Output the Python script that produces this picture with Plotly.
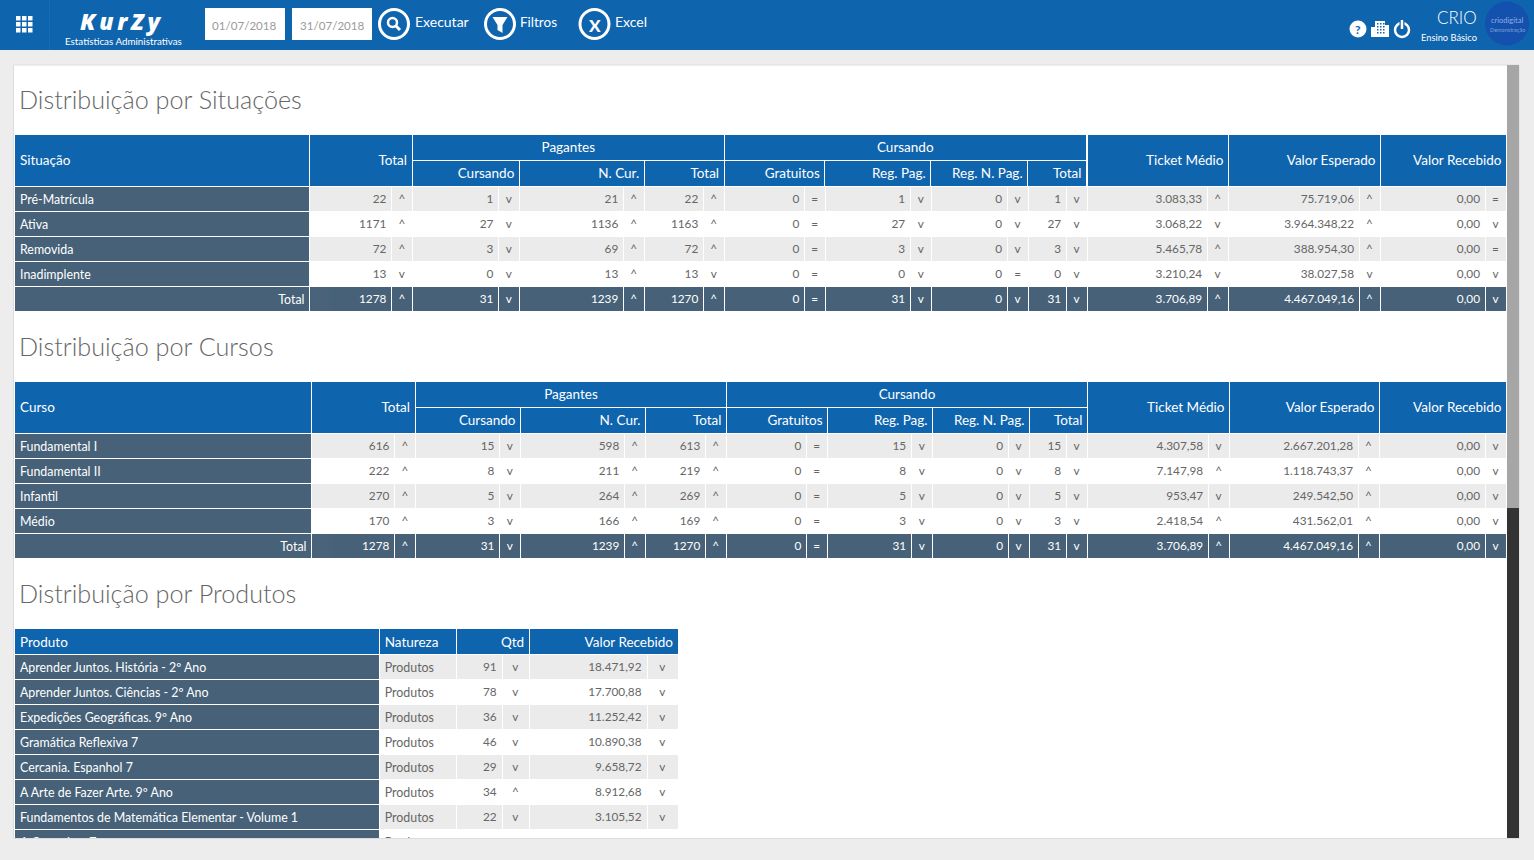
import plotly.graph_objects as go

W, H = 1534, 860

BLUE = '#0F64AE'
SLATE = '#466178'
GREY_ROW = '#EBEBEB'
PAGE = '#EDEDED'
TEXT = '#666666'
CLEAR = 'rgba(0,0,0,0)'
FONT = 'Lato'

# Distribuicao por Situacoes
situacoes = ['Pré-Matrícula', 'Ativa', 'Removida', 'Inadimplente', 'Total']
sit_total = ['22', '1171', '72', '13', '1278']
sit_total_seta = ['^', '^', '^', 'v', '^']
sit_pag_cursando = ['1', '27', '3', '0', '31']
sit_pag_cursando_seta = ['v', 'v', 'v', 'v', 'v']
sit_pag_ncur = ['21', '1136', '69', '13', '1239']
sit_pag_ncur_seta = ['^', '^', '^', '^', '^']
sit_pag_total = ['22', '1163', '72', '13', '1270']
sit_pag_total_seta = ['^', '^', '^', 'v', '^']
sit_gratuitos = ['0', '0', '0', '0', '0']
sit_gratuitos_seta = ['=', '=', '=', '=', '=']
sit_reg_pag = ['1', '27', '3', '0', '31']
sit_reg_pag_seta = ['v', 'v', 'v', 'v', 'v']
sit_reg_npag = ['0', '0', '0', '0', '0']
sit_reg_npag_seta = ['v', 'v', 'v', '=', 'v']
sit_cur_total = ['1', '27', '3', '0', '31']
sit_cur_total_seta = ['v', 'v', 'v', 'v', 'v']
sit_ticket = ['3.083,33', '3.068,22', '5.465,78', '3.210,24', '3.706,89']
sit_ticket_seta = ['^', 'v', '^', 'v', '^']
sit_esperado = ['75.719,06', '3.964.348,22', '388.954,30', '38.027,58', '4.467.049,16']
sit_esperado_seta = ['^', '^', '^', 'v', '^']
sit_recebido = ['0,00', '0,00', '0,00', '0,00', '0,00']
sit_recebido_seta = ['=', 'v', '=', 'v', 'v']

# Distribuicao por Cursos
cursos = ['Fundamental I', 'Fundamental II', 'Infantil', 'Médio', 'Total']
cur_total = ['616', '222', '270', '170', '1278']
cur_total_seta = ['^', '^', '^', '^', '^']
cur_pag_cursando = ['15', '8', '5', '3', '31']
cur_pag_cursando_seta = ['v', 'v', 'v', 'v', 'v']
cur_pag_ncur = ['598', '211', '264', '166', '1239']
cur_pag_ncur_seta = ['^', '^', '^', '^', '^']
cur_pag_total = ['613', '219', '269', '169', '1270']
cur_pag_total_seta = ['^', '^', '^', '^', '^']
cur_gratuitos = ['0', '0', '0', '0', '0']
cur_gratuitos_seta = ['=', '=', '=', '=', '=']
cur_reg_pag = ['15', '8', '5', '3', '31']
cur_reg_pag_seta = ['v', 'v', 'v', 'v', 'v']
cur_reg_npag = ['0', '0', '0', '0', '0']
cur_reg_npag_seta = ['v', 'v', 'v', 'v', 'v']
cur_cur_total = ['15', '8', '5', '3', '31']
cur_cur_total_seta = ['v', 'v', 'v', 'v', 'v']
cur_ticket = ['4.307,58', '7.147,98', '953,47', '2.418,54', '3.706,89']
cur_ticket_seta = ['v', '^', 'v', '^', '^']
cur_esperado = ['2.667.201,28', '1.118.743,37', '249.542,50', '431.562,01', '4.467.049,16']
cur_esperado_seta = ['^', '^', '^', '^', '^']
cur_recebido = ['0,00', '0,00', '0,00', '0,00', '0,00']
cur_recebido_seta = ['v', 'v', 'v', 'v', 'v']

# Distribuicao por Produtos
produtos = ['Aprender Juntos. História - 2º Ano', 'Aprender Juntos. Ciências - 2º Ano',
            'Expedições Geográficas. 9º Ano', 'Gramática Reflexiva 7', 'Cercania. Espanhol 7',
            'A Arte de Fazer Arte. 9º Ano', 'Fundamentos de Matemática Elementar - Volume 1',
            'A Conquista 7']
prod_natureza = ['Produtos'] * 8
prod_qtd = ['91', '78', '36', '46', '29', '34', '22', '']
prod_qtd_seta = ['v', 'v', 'v', 'v', 'v', '^', 'v', '']
prod_valor = ['18.471,92', '17.700,88', '11.252,42', '10.890,38', '9.658,72', '8.912,68', '3.105,52', '']
prod_valor_seta = ['v', 'v', 'v', 'v', 'v', 'v', 'v', '']

sit_cols = [situacoes, sit_total, sit_total_seta, sit_pag_cursando, sit_pag_cursando_seta,
            sit_pag_ncur, sit_pag_ncur_seta, sit_pag_total, sit_pag_total_seta,
            sit_gratuitos, sit_gratuitos_seta, sit_reg_pag, sit_reg_pag_seta,
            sit_reg_npag, sit_reg_npag_seta, sit_cur_total, sit_cur_total_seta,
            sit_ticket, sit_ticket_seta, sit_esperado, sit_esperado_seta,
            sit_recebido, sit_recebido_seta]
cur_cols = [cursos, cur_total, cur_total_seta, cur_pag_cursando, cur_pag_cursando_seta,
            cur_pag_ncur, cur_pag_ncur_seta, cur_pag_total, cur_pag_total_seta,
            cur_gratuitos, cur_gratuitos_seta, cur_reg_pag, cur_reg_pag_seta,
            cur_reg_npag, cur_reg_npag_seta, cur_cur_total, cur_cur_total_seta,
            cur_ticket, cur_ticket_seta, cur_esperado, cur_esperado_seta,
            cur_recebido, cur_recebido_seta]
prod_cols = [produtos, prod_natureza, prod_qtd, prod_qtd_seta, prod_valor, prod_valor_seta]

# column edges in page pixels
sit_edges = [14.5, 309.5, 391.5, 412.5, 498.5, 519.5, 623.5, 644.5, 703.5, 724.5, 804.5, 825.5,
             910.5, 931.5, 1007.5, 1028.5, 1066.5, 1087.5, 1207.5, 1228.5, 1359.5, 1380.5, 1485.5, 1506.5]
cur_edges = [14.5, 311.5, 394.5, 415.5, 499.5, 520.5, 624.5, 645.5, 705.5, 726.5, 806.5, 827.5,
             911.5, 932.5, 1008.5, 1029.5, 1066.5, 1087.5, 1208.5, 1229.5, 1358.5, 1379.5, 1485.5, 1506.5]
prod_edges = [14.5, 379.5, 456, 502, 529.5, 647, 678.5]

fig = go.Figure()


def px(x):
    return x / W


def py(y):
    return 1 - y / H


def text_edges(edges, aligns):
    # plotly pads table text 8px, the original only 5px: nudge the text columns
    out = list(edges)
    for i, a in enumerate(aligns):
        if a == 'left':
            out[i] = edges[i] - 2.5
            if i + 1 < len(aligns) and aligns[i + 1] == 'right':
                out[i + 1] = edges[i + 1] + 3
        elif a == 'right':
            out[i + 1] = edges[i + 1] + 3
        elif i and aligns[i - 1] == 'right':
            out[i + 1] = edges[i + 1] - 3
    return out


def add_table(edges, top, row_h, columns, fills, colors, aligns, size=12, dy=0):
    n = len(columns[0])
    widths = [b - a for a, b in zip(edges, edges[1:])]
    bottom = top + n * row_h + 2
    fig.add_trace(go.Table(
        domain=dict(x=[px(edges[0]), px(edges[-1])], y=[py(bottom), py(top)]),
        columnwidth=widths,
        header=dict(values=[''] * len(columns), height=0, fill_color=CLEAR, line_width=0),
        cells=dict(values=[[''] * n] * len(columns), height=row_h, fill_color=fills,
                   line_color='white', line_width=1),
    ))
    t_edges = text_edges(edges, aligns)
    widths = [b - a for a, b in zip(t_edges, t_edges[1:])]
    fig.add_trace(go.Table(
        domain=dict(x=[px(t_edges[0]), px(t_edges[-1])], y=[py(bottom + dy), py(top + dy)]),
        columnwidth=widths,
        header=dict(values=[''] * len(columns), height=0, fill_color=CLEAR, line_width=0),
        cells=dict(values=columns, height=row_h, fill_color=CLEAR, line_color=CLEAR, line_width=0,
                   align=aligns, font=dict(family=FONT, size=size, color=colors)),
    ))


def add_header(edges, top, first, group_labels, sub_labels, last_labels, spans):
    # spans = index of the edges where the groups start and stop
    a, b, c, d = spans
    tall_left = [edges[0], edges[1], edges[3]]
    add_table(tall_left, top, 52, [[first], [sub_labels[0]]], BLUE, 'white', ['left', 'right'], 13.5, dy=12.5)
    top_edges = [edges[a], edges[b], edges[c]]
    add_table(top_edges, top, 26, [[group_labels[0]], [group_labels[1]]], BLUE, 'white',
              ['center', 'center'], 13.5, dy=-0.5)
    sub_edges = edges[a:c + 1:2]
    cols = [[s] for s in sub_labels[1:]]
    add_table(sub_edges, top + 26, 26, cols, BLUE, 'white', ['right'] * len(cols), 13.5, dy=-0.5)
    tall_right = edges[c:d + 1:2]
    add_table(tall_right, top, 52, [[s] for s in last_labels], BLUE, 'white', ['right'] * 3, 13.5, dy=12.5)


def body(edges, top, cols):
    n_rows = len(cols[0])
    fills, colors, aligns, sizes = [], [], [], []
    for i, col in enumerate(cols):
        if i == 0:
            fills.append([SLATE] * n_rows)
            colors.append(['white'] * n_rows)
            aligns.append('left')
            sizes.append(12.4)
        else:
            fills.append([GREY_ROW if r % 2 == 0 else 'white' for r in range(n_rows - 1)] + [SLATE])
            colors.append([TEXT] * (n_rows - 1) + ['white'])
            aligns.append('right' if i % 2 else 'center')
            sizes.append(11.8)
    # the footer label is right aligned, the names above it are left aligned
    shown = [cols[0][:-1] + ['']] + cols[1:]
    add_table(edges, top, 25, shown, fills, colors, aligns, sizes)
    add_table(edges[:2], top + 25 * (n_rows - 1), 25, [[cols[0][-1]]], CLEAR, 'white', ['right'], 12.4)


sub_labels = ['Total', 'Cursando', 'N. Cur.', 'Total', 'Gratuitos', 'Reg. Pag.', 'Reg. N. Pag.', 'Total']
last_labels = ['Ticket Médio', 'Valor Esperado', 'Valor Recebido']

add_header(sit_edges, 134.5, 'Situação', ['Pagantes', 'Cursando'], sub_labels, last_labels, (3, 9, 17, 23))
body(sit_edges, 186.5, sit_cols)
add_header(cur_edges, 381.5, 'Curso', ['Pagantes', 'Cursando'], sub_labels, last_labels, (3, 9, 17, 23))
body(cur_edges, 433.5, cur_cols)

# produtos table has its own simple header
prod_head = [prod_edges[0], prod_edges[1], prod_edges[2], prod_edges[4], prod_edges[6]]
add_table(prod_head, 628.5, 26, [['Produto'], ['Natureza'], ['Qtd'], ['Valor Recebido']], BLUE, 'white',
          ['left', 'left', 'right', 'right'], 13.5, dy=0.5)

n_prod = len(produtos)
prod_fill = [[SLATE] * n_prod] + [[GREY_ROW if r % 2 == 0 else 'white' for r in range(n_prod)]] * 5
prod_color = [['white'] * n_prod] + [[TEXT] * n_prod] * 5
add_table(prod_edges, 654.5, 25, prod_cols, prod_fill, prod_color,
          ['left', 'left', 'right', 'center', 'right', 'center'], [12.4, 12.4, 11.8, 11.8, 11.8, 11.8])

shapes = []


def rect(x0, y0, x1, y1, color, layer='below', line=None, **kw):
    shapes.append(dict(type='rect', xref='paper', yref='paper', x0=px(x0), x1=px(x1), y0=py(y0), y1=py(y1),
                       fillcolor=color, line=line or dict(width=0), layer=layer, **kw))


def circle(cx, cy, r, fill=None, line=None, layer='above'):
    shapes.append(dict(type='circle', xref='paper', yref='paper', x0=px(cx - r), x1=px(cx + r),
                       y0=py(cy + r), y1=py(cy - r), fillcolor=fill or CLEAR,
                       line=line or dict(width=0), layer=layer))


def seg(x0, y0, x1, y1, color='white', width=2):
    shapes.append(dict(type='line', xref='paper', yref='paper', x0=px(x0), x1=px(x1), y0=py(y0), y1=py(y1),
                       line=dict(color=color, width=width), layer='above'))


def label(x, y, text, size=13, color='white', anchor='left', family=FONT, **font_kw):
    fig.add_annotation(xref='paper', yref='paper', x=px(x), y=py(y), text=text, showarrow=False,
                       xanchor=anchor, yanchor='middle', borderpad=0, borderwidth=0,
                       font=dict(family=family, size=size, color=color, **font_kw))


# page furniture
rect(0, 0, W, H, PAGE)
rect(13.5, 65, 1519, 838.5, 'white', line=dict(color='#DCDCDC', width=1))
rect(1507, 65, 1519, 508, '#A6A6A6', layer='above')
rect(1507, 508, 1519, 838, '#333333', layer='above')
rect(0, 838.5, 1507, H, PAGE, layer='above')
seg(14, 838.5, 1507, 838.5, '#DCDCDC', 1)
rect(0, 0, W, 50, BLUE, layer='above')
seg(49.5, 0, 49.5, 50, '#1A6BB2', 1)

# grid icon
for gx in range(3):
    for gy in range(3):
        rect(16 + gx * 6, 16 + gy * 6, 20.5 + gx * 6, 20.5 + gy * 6, 'white', layer='above')

# thin spaces: the logo lettering is wider than any font here
label(80, 20.5, 'K\u2009u\u2009r\u2009Z\u2009y', 23, 'white', family='Open Sans', style='italic', weight=800)
label(65, 41.5, 'Estatísticas Administrativas', 9.8)

rect(205, 8, 285, 40, 'white', layer='above')
rect(292, 8, 372, 40, 'white', layer='above')
label(245, 25, '01/07/2018', 11.6, '#9A9A9A', 'center')
label(332, 25, '31/07/2018', 11.6, '#9A9A9A', 'center')

for cx in (394, 500, 594.5):
    circle(cx, 24, 14.5, line=dict(color='white', width=3))
# lupa
circle(392.5, 22.5, 4.5, line=dict(color='white', width=2.5))
seg(396, 26, 400, 30, 'white', 3)
# funil
shapes.append(dict(type='path', xref='paper', yref='paper', layer='above', fillcolor='white',
                   line=dict(width=0),
                   path=f'M {px(492.5)} {py(17)} L {px(507.5)} {py(17)} L {px(502.5)} {py(25)} L {px(502.5)} {py(33)} '
                        f'L {px(497.5)} {py(30)} L {px(497.5)} {py(25)} Z'))
label(594.5, 25, 'X', 17, 'white', 'center', weight=900)
label(415, 22, 'Executar', 14)
label(520, 22, 'Filtros', 13.5)
label(615, 22, 'Excel', 14)

# right side
circle(1358, 29, 8.5, fill='white')
label(1358, 29, '?', 12, BLUE, 'center', weight=700)
rect(1371, 27, 1378, 37, 'white', layer='above')
rect(1375, 21, 1385, 37, 'white', layer='above')
rect(1385, 25, 1389, 37, 'white', layer='above')
for wx in (1377, 1380, 1383):
    for wy in (23, 26, 29, 32):
        rect(wx, wy, wx + 1.5, wy + 1.5, BLUE, layer='above')
circle(1402, 30, 7, line=dict(color='white', width=2.5))
seg(1402, 20, 1402, 29, BLUE, 5)
seg(1402, 20, 1402, 29, 'white', 2.5)
label(1477, 18, 'CRIO', 17, 'white', 'right', weight=300)
label(1477, 37.5, 'Ensino Básico', 9.3, 'white', 'right')
circle(1507, 23.5, 22, fill='#1450AE')
label(1507, 21, 'criodigital', 7.5, '#8FB0E0', 'center')
label(1507, 30, 'Demonstração', 5.5, '#7FA0D8', 'center')

# section titles
label(18.5, 98.5, 'Distribuição por Situações', 25.2, TEXT, weight=300)
label(18.5, 345.5, 'Distribuição por Cursos', 25.2, TEXT, weight=300)
label(18.5, 592.5, 'Distribuição por Produtos', 25.2, TEXT, weight=300)

fig.update_layout(
    width=W, height=H,
    margin=dict(l=0, r=0, t=0, b=0, pad=0),
    paper_bgcolor=PAGE,
    showlegend=False,
    shapes=shapes,
    font=dict(family=FONT),
)

fig.write_html("out.html", config={'displayModeBar': False},
               post_script="document.body.style.margin='0';")
